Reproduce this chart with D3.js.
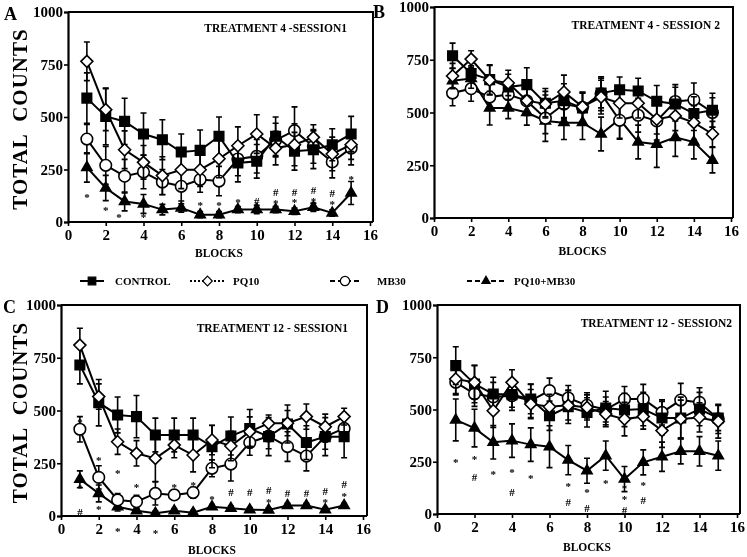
<!DOCTYPE html>
<html>
<head>
<meta charset="utf-8">
<script src="https://cdn.jsdelivr.net/npm/d3@7"></script>
<style>
  body { margin: 0; background: #fff; }
  svg { display: block; font-family: "Liberation Serif", "DejaVu Serif", serif; font-weight: bold; will-change: transform; }
</style>
</head>
<body>
<svg id="chart" width="747" height="557"></svg>
<script>
// ---- data ----
const blocks = [1, 2, 3, 4, 5, 6, 7, 8, 9, 10, 11, 12, 13, 14, 15];
const xTicks = [0, 2, 4, 6, 8, 10, 12, 14, 16];
const yTicks = [0, 250, 500, 750, 1000];
const seriesNames = ["CONTROL", "PQ10", "MB30", "PQ10+MB30"];

// A: treatment 4 - session 1
const aControl = [590, 503, 479, 419, 392, 333, 341, 408, 281, 289, 408, 337, 344, 368, 419];
const aPq10    = [765, 535, 344, 284, 221, 249, 249, 301, 363, 419, 352, 368, 403, 324, 368];
const aMb30    = [395, 270, 218, 238, 190, 170, 202, 195, 300, 313, 390, 435, 360, 286, 352];
const aCombo   = [260, 162, 98, 86, 59, 67, 35, 35, 59, 59, 59, 51, 70, 43, 138];
const aControlErr = [120, 135, 110, 100, 95, 86, 97, 92, 90, 80, 92, 90, 90, 76, 84];
const aPq10Err    = [92, 100, 90, 80, 90, 90, 80, 90, 90, 92, 80, 100, 60, 80, 70];
const aMb30Err    = [70, 90, 80, 80, 60, 70, 60, 70, 80, 80, 80, 113, 80, 76, 80];
const aComboErr   = [70, 60, 45, 45, 25, 20, 15, 15, 15, 20, 15, 15, 20, 15, 55];
const aMarks = [[1, 118, "*"], [2, 58, "*"], [2.7, 22, "*"], [4, 22, "*"], [7, 82, "*"], [8, 82, "*"],
  [9, 95, "*"], [10, 100, "#"], [11, 92, "*"], [11, 142, "#"], [12, 95, "*"], [12, 145, "#"],
  [13, 100, "*"], [13, 152, "#"], [14, 88, "*"], [14, 138, "#"], [15, 205, "*"]];

// B: treatment 4 - session 2
const bControl = [769, 685, 656, 621, 632, 544, 556, 521, 592, 608, 602, 553, 540, 495, 511];
const bPq10    = [673, 753, 653, 640, 556, 540, 597, 527, 573, 544, 544, 468, 484, 452, 398];
const bMb30    = [592, 613, 573, 585, 555, 473, 540, 524, 589, 463, 487, 460, 552, 560, 500];
const bCombo   = [650, 661, 521, 521, 500, 460, 452, 452, 398, 468, 360, 350, 382, 360, 274];
const bControlErr = [60, 70, 70, 60, 80, 70, 80, 70, 70, 60, 60, 75, 80, 80, 80];
const bPq10Err    = [60, 40, 70, 60, 70, 60, 80, 70, 80, 70, 70, 70, 70, 80, 60];
const bMb30Err    = [60, 60, 60, 70, 60, 110, 70, 70, 80, 90, 80, 90, 80, 80, 70];
const bComboErr   = [60, 60, 80, 50, 60, 60, 80, 80, 80, 90, 80, 110, 90, 80, 60];
const bMarks = [];

// C: treatment 12 - session 1
const cControl = [716, 537, 479, 471, 384, 384, 384, 329, 379, 415, 376, 436, 348, 376, 376];
const cPq10    = [810, 566, 352, 297, 273, 336, 289, 360, 332, 400, 439, 440, 471, 423, 471];
const cMb30    = [411, 183, 76, 68, 107, 100, 111, 226, 246, 348, 379, 329, 284, 376, 415];
const cCombo   = [174, 107, 44, 25, 13, 25, 16, 44, 37, 30, 28, 50, 50, 30, 50];
const cControlErr = [90, 110, 85, 100, 80, 80, 80, 100, 90, 90, 90, 90, 80, 90, 100];
const cPq10Err    = [80, 60, 60, 60, 110, 60, 80, 70, 70, 70, 40, 60, 60, 60, 40];
const cMb30Err    = [60, 55, 30, 30, 55, 20, 25, 40, 80, 60, 60, 70, 70, 60, 60];
const cComboErr   = [40, 40, 20, 10, 10, 10, 10, 10, 10, 10, 10, 10, 10, 10, 10];
const cMarks = [[1, 447, "*"], [1, 131, "*"], [1, 20, "#"], [2, 265, "*"], [2, 32, "*"], [3, 202, "*"],
  [3, -72, "*"], [4, 139, "*"], [5, 107, "*"], [5, -80, "*"], [6, 139, "*"], [7, 145, "*"], [8, 79, "*"],
  [9, 115, "#"], [10, 112, "#"], [11, 125, "#"], [11, 68, "*"], [12, 108, "#"], [13, 108, "#"],
  [14, 118, "#"], [14, 66, "*"], [15, 152, "#"], [15, 95, "*"]];

// D: treatment 12 - session 2
const dControl = [710, 622, 574, 571, 550, 470, 513, 486, 507, 498, 502, 459, 459, 502, 459];
const dPq10    = [646, 630, 494, 630, 526, 513, 520, 510, 478, 454, 466, 399, 455, 462, 443];
const dMb30    = [630, 575, 560, 566, 542, 590, 555, 520, 500, 550, 550, 486, 545, 534, 455];
const dCombo   = [450, 411, 343, 351, 332, 322, 258, 207, 279, 167, 247, 274, 300, 300, 279];
const dControlErr = [90, 90, 80, 60, 70, 70, 80, 70, 80, 80, 80, 80, 100, 80, 60];
const dPq10Err    = [70, 80, 80, 60, 70, 60, 70, 60, 60, 80, 60, 80, 90, 70, 80];
const dMb30Err    = [60, 60, 70, 70, 80, 60, 60, 60, 60, 60, 70, 60, 80, 70, 70];
const dComboErr   = [100, 90, 80, 80, 80, 100, 70, 60, 70, 60, 60, 70, 60, 70, 70];
const dMarks = [[1, 248, "*"], [2, 263, "*"], [2, 177, "#"], [3, 193, "*"], [4, 199, "*"], [4, 103, "#"],
  [5, 172, "*"], [7, 135, "*"], [7, 56, "#"], [8, 103, "*"], [8, 29, "#"], [9, 148, "*"],
  [10, 124, "*"], [10, 72, "*"], [10, 18, "#"], [11, 140, "*"], [11, 65, "#"]];

// ---- layout ----
const panels = [
  { letter: "A", title: "TREATMENT 4 -SESSION1", x0: 68, x1: 370, y0: 222, y1: 12, right: 373,
    series: [aControl, aPq10, aMb30, aCombo], errs: [aControlErr, aPq10Err, aMb30Err, aComboErr], marks: aMarks,
    letterX: 4, letterY: 20, titleX: 347, titleY: 32, ylab: true, blocksY: 257 },
  { letter: "B", title: "TREATMENT 4 - SESSION 2", x0: 434, x1: 731, y0: 218, y1: 7, right: 733,
    series: [bControl, bPq10, bMb30, bCombo], errs: [bControlErr, bPq10Err, bMb30Err, bComboErr], marks: bMarks,
    letterX: 373, letterY: 18, titleX: 720, titleY: 29, ylab: false, blocksY: 255 },
  { letter: "C", title: "TREATMENT 12  - SESSION1", x0: 61, x1: 363, y0: 516, y1: 305, right: 367,
    series: [cControl, cPq10, cMb30, cCombo], errs: [cControlErr, cPq10Err, cMb30Err, cComboErr], marks: cMarks,
    letterX: 3, letterY: 313, titleX: 348, titleY: 332, ylab: true, blocksY: 554 },
  { letter: "D", title: "TREATMENT 12 - SESSION2", x0: 437, x1: 737, y0: 514, y1: 305, right: 740,
    series: [dControl, dPq10, dMb30, dCombo], errs: [dControlErr, dPq10Err, dMb30Err, dComboErr], marks: dMarks,
    letterX: 376, letterY: 313, titleX: 732, titleY: 327, ylab: false, blocksY: 551 }
];

const svg = d3.select("#chart");

const diamond = { draw(ctx, size) { const r = Math.sqrt(size) / 2;
  ctx.moveTo(0, -r); ctx.lineTo(r, 0); ctx.lineTo(0, r); ctx.lineTo(-r, 0); ctx.closePath(); } };
const markers = [
  { path: d3.symbol(d3.symbolSquare, 90)(), fill: "#000", dash: null },
  { path: d3.symbol(diamond, 144)(), fill: "#fff", dash: "2,2" },
  { path: d3.symbol(d3.symbolCircle, 105)(), fill: "#fff", dash: "5,3" },
  { path: d3.symbol(d3.symbolTriangle, 45)(), fill: "#000", dash: "5,3" }
];
// draw order: bottom series first
const drawOrder = [3, 2, 0, 1];

panels.forEach(p => {
  const x = d3.scaleLinear().domain([0, 16]).range([p.x0, p.x1]);
  const y = d3.scaleLinear().domain([0, 1000]).range([p.y0, p.y1]);
  const g = svg.append("g");

  // frame (top and right)
  g.append("path")
    .attr("d", `M${p.x0},${p.y1}H${p.right}V${p.y0}`)
    .attr("fill", "none").attr("stroke", "#000").attr("stroke-width", 2);

  const xAxis = g.append("g")
    .attr("transform", `translate(0,${p.y0})`)
    .call(d3.axisBottom(x).tickValues(xTicks).tickSize(4).tickPadding(3).tickFormat(d3.format("d")));
  xAxis.select(".domain").attr("d", `M${p.x0},0H${p.right}`);
  const yAxis = g.append("g")
    .attr("transform", `translate(${p.x0},0)`)
    .call(d3.axisLeft(y).tickValues(yTicks).tickSize(4).tickPadding(1).tickFormat(d3.format("d")));
  [xAxis, yAxis].forEach(a => {
    a.select(".domain").attr("stroke-width", 2.2);
    a.selectAll(".tick line").attr("stroke-width", 1.6);
    a.selectAll("text").attr("font-family", "Liberation Serif").attr("font-weight", "bold")
      .attr("font-size", 15).attr("fill", "#000");
  });

  g.append("text").attr("x", p.letterX).attr("y", p.letterY)
    .attr("font-size", 18).text(p.letter);

  g.append("text").attr("x", p.titleX).attr("y", p.titleY).attr("text-anchor", "end")
    .attr("font-size", 11.5).text(p.title);

  g.append("text").attr("x", (p.x0 + p.x1) / 2).attr("y", p.blocksY).attr("text-anchor", "middle")
    .attr("font-size", 11.5).text("BLOCKS");

  if (p.ylab) {
    g.append("text")
      .attr("transform", `translate(27,${(p.y0 + p.y1) / 2 + 2}) rotate(-90)`)
      .attr("text-anchor", "middle").attr("font-size", 21).attr("letter-spacing", 1)
      .attr("xml:space", "preserve")
      .text("TOTAL  COUNTS");
  }

  // significance marks
  g.selectAll("text.mark").data(p.marks).join("text").attr("class", "mark")
    .attr("x", d => x(d[0])).attr("y", d => y(d[1]) + 4)
    .attr("text-anchor", "middle").attr("font-size", 11).attr("fill", "#000")
    .text(d => d[2]);

  const line = d3.line().x((d, i) => x(blocks[i])).y(d => y(d));

  drawOrder.forEach(si => {
    const vals = p.series[si], errs = p.errs[si];
    const sg = g.append("g");
    // error bars
    const eb = sg.selectAll("g.err").data(vals).join("g").attr("class", "err")
      .attr("transform", (d, i) => `translate(${x(blocks[i])},0)`);
    eb.append("path")
      .attr("d", (d, i) => {
        const hi = y(d + errs[i]), lo = y(Math.max(0, d - errs[i]));
        return `M0,${hi}V${lo}M-3,${hi}H3M-3,${lo}H3`;
      })
      .attr("stroke", "#000").attr("stroke-width", 1.6).attr("fill", "none");
    sg.append("path").datum(vals).attr("d", line)
      .attr("fill", "none").attr("stroke", "#000").attr("stroke-width", 2);
    sg.selectAll("path.mk").data(vals).join("path").attr("class", "mk")
      .attr("d", markers[si].path)
      .attr("transform", (d, i) => `translate(${x(blocks[i])},${y(d)})`)
      .attr("fill", markers[si].fill).attr("stroke", "#000").attr("stroke-width", 1.6);
  });
});

// legend
const legendItems = [
  { x1: 80, x2: 104, label: 115 },
  { x1: 190, x2: 225, label: 233 },
  { x1: 330, x2: 360, label: 377 },
  { x1: 467, x2: 505, label: 514 }
];
const lg = svg.append("g").attr("transform", "translate(0,281)");
legendItems.forEach((it, i) => {
  lg.append("line").attr("x1", it.x1).attr("x2", it.x2)
    .attr("stroke", "#000").attr("stroke-width", 2)
    .attr("stroke-dasharray", markers[i].dash);
  lg.append("path").attr("d", markers[i].path)
    .attr("transform", `translate(${(it.x1 + it.x2) / 2},0) scale(0.8)`)
    .attr("fill", markers[i].fill).attr("stroke", "#000").attr("stroke-width", 1.5);
  lg.append("text").attr("x", it.label).attr("y", 4).attr("font-size", 11).text(seriesNames[i]);
});
</script>
</body>
</html>
